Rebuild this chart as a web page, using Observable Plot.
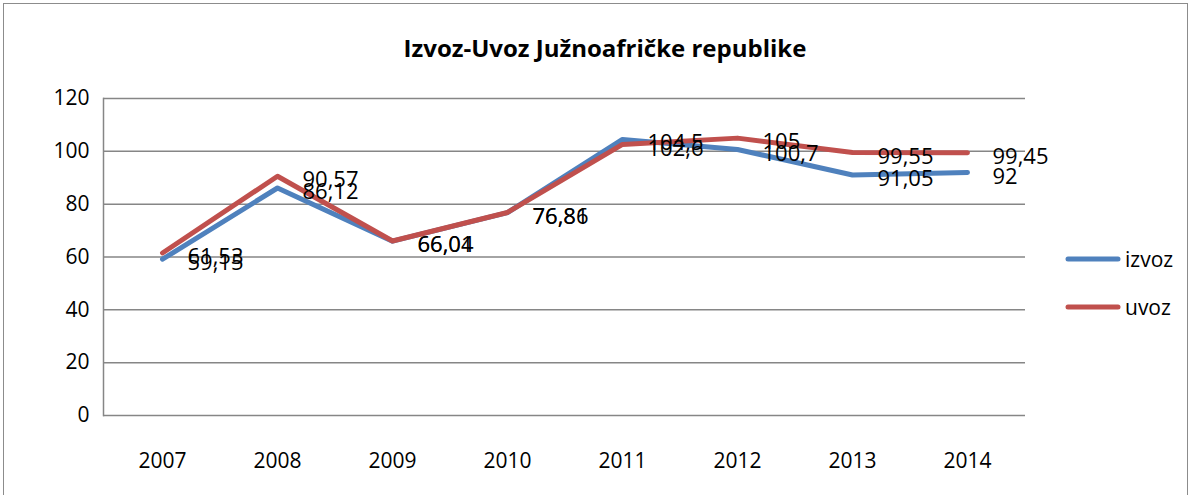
<!DOCTYPE html>
<html>
<head>
<meta charset="utf-8">
<script src="https://cdn.jsdelivr.net/npm/d3@7"></script>
<script src="https://cdn.jsdelivr.net/npm/@observablehq/plot@0.6"></script>
<style>
  html, body { margin: 0; padding: 0; background: #fff; }
  #wrap { position: relative; width: 1192px; height: 495px; overflow: hidden; font-family: "Open Sans", "Noto Sans", sans-serif; }
  #frame { position: absolute; left: 3px; top: 3px; width: 1185px; height: 500px; border: 1px solid #8c8c8c; box-sizing: border-box; }
  #title { position: absolute; left: 0; top: 31px; width: 1210px; text-align: center; font-weight: bold; font-size: 24px; color: #000; }
  #chart { position: absolute; left: 0; top: 70px; }
  .leg { position: absolute; left: 1065px; font-size: 21px; color: #000; display: flex; align-items: center; }
  .leg svg { margin-right: 4px; }
</style>
</head>
<body>
<div id="wrap">
  <div id="frame"></div>
  <div id="title">Izvoz-Uvoz Južnoafričke republike</div>
  <div id="chart"></div>
  <div class="leg" id="leg1" style="top:245px"></div>
  <div class="leg" id="leg2" style="top:293px"></div>
</div>
<script>
const years = ["2007", "2008", "2009", "2010", "2011", "2012", "2013", "2014"];
const izvoz = [59.15, 86.12, 66.01, 76.81, 104.5, 100.7, 91.05, 92];
const uvoz = [61.53, 90.57, 66.04, 76.86, 102.6, 105, 99.55, 99.45];
const seriesNames = ["izvoz", "uvoz"];
const seriesColors = ["#4F81BD", "#C0504D"];
const yTicks = [0, 20, 40, 60, 80, 100, 120];

const data = [];
years.forEach((y, i) => {
  data.push({year: y, value: izvoz[i], series: "izvoz"});
  data.push({year: y, value: uvoz[i], series: "uvoz"});
});
const fmt = v => String(v).replace(".", ",");

const chart = Plot.plot({
  width: 1192,
  height: 425,
  marginLeft: 103,
  marginRight: 167,
  marginTop: 28,
  marginBottom: 80,
  style: {fontFamily: "'Open Sans', 'Noto Sans', sans-serif", fontSize: "20px", color: "#000", background: "transparent"},
  x: {type: "point", domain: years, padding: 0.5, label: null},
  y: {domain: [0, 120], ticks: yTicks, label: null},
  color: {domain: seriesNames, range: seriesColors},
  marks: [
    Plot.gridY(yTicks, {stroke: "#868686", strokeOpacity: 1, strokeWidth: 1.5}),
    Plot.frame({anchor: "left", stroke: "#868686", strokeWidth: 1.5}),
    Plot.axisY({ticks: yTicks, tickSize: 0, tickPadding: 14, fontSize: 21, label: null}),
    Plot.axisX({tickSize: 0, tickPadding: 38, fontSize: 21, label: null}),
    Plot.line(data, {x: "year", y: "value", z: "series", stroke: "series", strokeWidth: 5, strokeLinejoin: "round"}),
    Plot.text(data, {x: "year", y: "value", text: d => fmt(d.value), textAnchor: "start", dx: 25, dy: 4, fontSize: 22, fill: "#000"})
  ]
});
document.getElementById("chart").appendChild(chart);

function legendItem(el, name, color) {
  el.innerHTML = `<svg width="56" height="8"><line x1="3" y1="4" x2="53" y2="4" stroke="${color}" stroke-width="5" stroke-linecap="round"/></svg><span>${name}</span>`;
}
legendItem(document.getElementById("leg1"), seriesNames[0], seriesColors[0]);
legendItem(document.getElementById("leg2"), seriesNames[1], seriesColors[1]);
</script>
</body>
</html>
